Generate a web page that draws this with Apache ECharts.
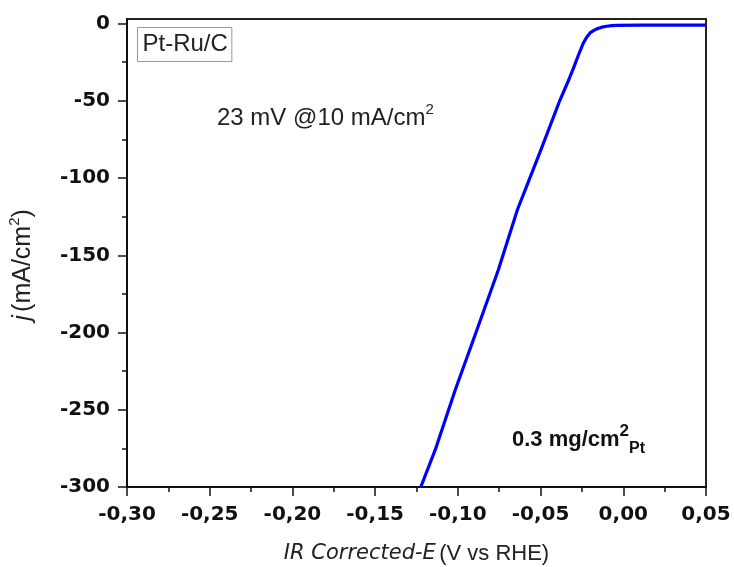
<!DOCTYPE html>
<html>
<head>
<meta charset="utf-8">
<script src="https://cdn.jsdelivr.net/npm/echarts@6/dist/echarts.min.js"></script>
<style>
  html, body { margin: 0; padding: 0; background: #fff; }
  #chart { width: 734px; height: 567px; }
</style>
</head>
<body>
<div id="chart"></div>
<script>
// Polarization curve (E in V vs RHE, j in mA/cm2)
const potential = [-0.1224, -0.1137, -0.1016, -0.0885, -0.0755, -0.0640, -0.0498, -0.0382,
    -0.0330, -0.0297, -0.0268, -0.0241, -0.0220, -0.0201, -0.0180, -0.0160, -0.0130,
    -0.0100, -0.0070, -0.0040, 0.0100, 0.0300, 0.0500];
const currentDensity = [-300, -276, -237.2, -198.3, -159.4, -120.5, -81.7, -49.3,
    -36.5, -27.7, -19.5, -12.5, -8.6, -6.0, -4.5, -3.4, -2.3,
    -1.7, -1.3, -1.1, -1.0, -1.0, -1.0];

const yTicks = [0, -50, -100, -150, -200, -250, -300];
const yMinorTicks = [-25, -75, -125, -175, -225, -275];

const tickFont = { fontFamily: 'DejaVu Sans', fontWeight: 'bold', fontSize: 20, color: '#111' };

const chart = echarts.init(document.getElementById('chart'), null, { renderer: 'canvas' });

const option = {
    backgroundColor: '#fff',
    animation: false,
    grid: {
        left: 127, right: 28, top: 19, bottom: 80,
        outerBoundsMode: 'none',
        show: true, borderColor: '#222', borderWidth: 2, backgroundColor: 'transparent'
    },
    xAxis: {
        type: 'value',
        min: -0.30, max: 0.05, interval: 0.05,
        axisLine: { onZero: false, lineStyle: { color: '#111', width: 2 } },
        axisTick: { length: 9, lineStyle: { color: '#111', width: 1.5 } },
        minorTick: { show: true, splitNumber: 2, length: 5, lineStyle: { color: '#111', width: 1.5 } },
        splitLine: { show: false },
        axisLabel: Object.assign({
            margin: 18,
            formatter: v => (Math.abs(v) < 1e-9 ? 0 : v).toFixed(2).replace('.', ',')
        }, tickFont),
        name: '{i|IR Corrected-E} {n|(V vs RHE)}',
        nameLocation: 'middle',
        nameGap: 56,
        nameTextStyle: {
            rich: {
                i: { fontFamily: 'DejaVu Sans', fontStyle: 'italic', fontSize: 21, color: '#222' },
                n: { fontFamily: 'Liberation Sans', fontSize: 22, color: '#222' }
            }
        }
    },
    yAxis: [{
        type: 'value',
        min: -300, max: 3,
        position: 'left',
        axisLine: { onZero: false, lineStyle: { color: '#111', width: 2 } },
        axisTick: { customValues: yTicks, length: 9, lineStyle: { color: '#111', width: 1.5 } },
        splitLine: { show: false },
        axisLabel: Object.assign({ customValues: yTicks, margin: 17 }, tickFont),
        name: '{j|j} {n|(mA/cm}{s|2}{n|)}',
        nameLocation: 'middle',
        nameGap: 88,
        nameTextStyle: {
            padding: [0, 24, 0, 0],
            rich: {
                j: { fontFamily: 'Liberation Sans', fontStyle: 'italic', fontSize: 25, color: '#222', lineHeight: 32 },
                n: { fontFamily: 'Liberation Sans', fontSize: 25, color: '#222', lineHeight: 32 },
                s: { fontFamily: 'Liberation Sans', fontSize: 15, color: '#222', lineHeight: 15, verticalAlign: 'top' }
            }
        }
    }, {
        type: 'value',
        min: -300, max: 3,
        position: 'left',
        axisLine: { show: false, onZero: false },
        axisTick: { customValues: yMinorTicks, length: 5, lineStyle: { color: '#111', width: 1.5 } },
        axisLabel: { show: false },
        splitLine: { show: false }
    }],
    graphic: [{
        type: 'text',
        left: 137, top: 27,
        style: {
            text: 'Pt-Ru/C',
            font: '24px "Liberation Sans"',
            fill: '#222',
            padding: [5, 4, 5, 5],
            borderColor: '#999',
            borderWidth: 1
        }
    }, {
        type: 'text',
        left: 217, top: 102,
        style: {
            text: '{n|23 mV @10 mA/cm}{s|2}',
            rich: {
                n: { font: '24px "Liberation Sans"', fill: '#222', lineHeight: 32 },
                s: { font: '15px "Liberation Sans"', fill: '#222', lineHeight: 15, verticalAlign: 'top' }
            }
        }
    }, {
        type: 'text',
        left: 512, top: 423,
        style: {
            text: '{n|0.3 mg/cm}{s|2}{b|Pt}',
            rich: {
                n: { font: 'bold 22px "Liberation Sans"', fill: '#111', lineHeight: 34 },
                s: { font: 'bold 17px "Liberation Sans"', fill: '#111', lineHeight: 17, verticalAlign: 'top' },
                b: { font: 'bold 16px "Liberation Sans"', fill: '#111', lineHeight: 16, verticalAlign: 'bottom' }
            }
        }
    }],
    series: [{
        type: 'line',
        data: potential.map((e, i) => [e, currentDensity[i]]),
        showSymbol: false,
        smooth: false,
        lineStyle: { color: '#0000ff', width: 3.2, join: 'round' },
        clip: true
    }]
};

chart.setOption(option);
</script>
</body>
</html>
